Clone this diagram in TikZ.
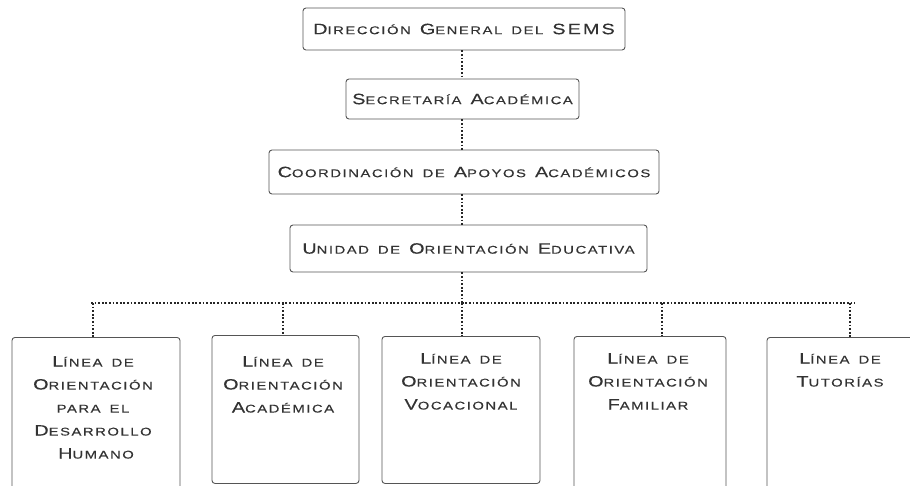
\documentclass[tikz,border=0pt]{standalone}
\usepackage{fontspec}
\setmainfont{Liberation Sans}[FakeStretch=1.32, LetterSpace=14, WordSpace=1.6, FakeBold=0.3]
\newcommand\Bg[1]{{\fontsize{15}{16}\selectfont #1}}
\definecolor{txt}{HTML}{333333}
\definecolor{edge}{HTML}{555555}
\tikzset{
  box/.style={draw=edge, line width=0.9pt, rounded corners=3pt, inner sep=0pt},
  lbl/.style={text=txt, font=\fontsize{11.2}{23}\selectfont, align=center, inner sep=0pt},
  conn/.style={line width=1.8pt, dash pattern=on 1.8pt off 1.8pt, draw=black!85}
}
\begin{document}
\begin{tikzpicture}[x=1pt,y=1pt]
\useasboundingbox (0,0) rectangle (910,485);
\begin{scope}
\clip (0,0) rectangle (910,485);
% upper chain
\node[box, minimum width=322pt, minimum height=42pt] (dg) at (464,456) {};
\node[lbl] (dgt) at (dg.center) {\Bg{D}IRECCIÓN \Bg{G}ENERAL DEL \Bg{SEMS}};
\node[box, minimum width=233pt, minimum height=40pt] (sa) at (462.5,386) {};
\node[lbl] (sat) at (sa.center) {\Bg{S}ECRETARÍA \Bg{A}CADÉMICA};
\node[box, minimum width=390pt, minimum height=44pt] (ca) at (464,313) {};
\node[lbl] (cat) at (ca.center) {\Bg{C}OORDINACIÓN DE \Bg{A}POYOS \Bg{A}CADÉMICOS};
\node[box, minimum width=357pt, minimum height=47pt] (uo) at (468.5,236.5) {};
\node[lbl] (uot) at (uo.center) {\Bg{U}NIDAD DE \Bg{O}RIENTACIÓN \Bg{E}DUCATIVA};
% bottom boxes
\node[box, anchor=north, minimum width=168pt, minimum height=170pt] (la) at (96,148) {};
\node[box, anchor=north, minimum width=147pt, minimum height=148pt] (lb) at (285.5,150) {};
\node[box, anchor=north, minimum width=158pt, minimum height=147pt] (lc) at (461,149) {};
\node[box, anchor=north, minimum width=152pt, minimum height=170pt] (ld) at (650,149) {};
\node[box, anchor=north, minimum width=170pt, minimum height=170pt] (le) at (852,148) {};
\node[lbl, anchor=north] (lat) at (93,129) {\Bg{L}ÍNEA DE\\\Bg{O}RIENTACIÓN\\PARA EL\\\Bg{D}ESARROLLO\\\hspace{6pt}\Bg{H}UMANO};
\node[lbl, anchor=north] (lbt) at (283,129) {\Bg{L}ÍNEA DE\\\Bg{O}RIENTACIÓN\\\Bg{A}CADÉMICA};
\node[lbl, anchor=north] (lct) at (461,132) {\Bg{L}ÍNEA DE\\\Bg{O}RIENTACIÓN\\\Bg{V}OCACIONAL};
\node[lbl, anchor=north] (ldt) at (648,132) {\Bg{L}ÍNEA DE\\\Bg{O}RIENTACIÓN\\\Bg{F}AMILIAR};
\node[lbl, anchor=north] (let) at (840,132) {\Bg{L}ÍNEA DE\\\Bg{T}UTORÍAS};
\end{scope}
% connectors
\coordinate (sp) at (462,0);
\draw[conn] (dg.south -| sp) -- (sa.north -| sp);
\draw[conn] (sa.south -| sp) -- (ca.north -| sp);
\draw[conn] (ca.south -| sp) -- (uo.north -| sp);
\coordinate (bus) at (462,182);
\coordinate (ba) at (93,182);
\coordinate (bb) at (283,182);
\coordinate (bc) at (462,182);
\coordinate (bd) at (662,182);
\coordinate (be) at (850,182);
\coordinate (bl) at (91,182);
\coordinate (br) at (855,182);
\draw[conn] (uo.south -| sp) -- (bus);
\draw[conn] (bl) -- (br);
\draw[conn] (ba) -- (ba |- la.north);
\draw[conn] (bb) -- (bb |- lb.north);
\draw[conn] (bc) -- (bc |- lc.north);
\draw[conn] (bd) -- (bd |- ld.north);
\draw[conn] (be) -- (be |- le.north);
\end{tikzpicture}
\end{document}
